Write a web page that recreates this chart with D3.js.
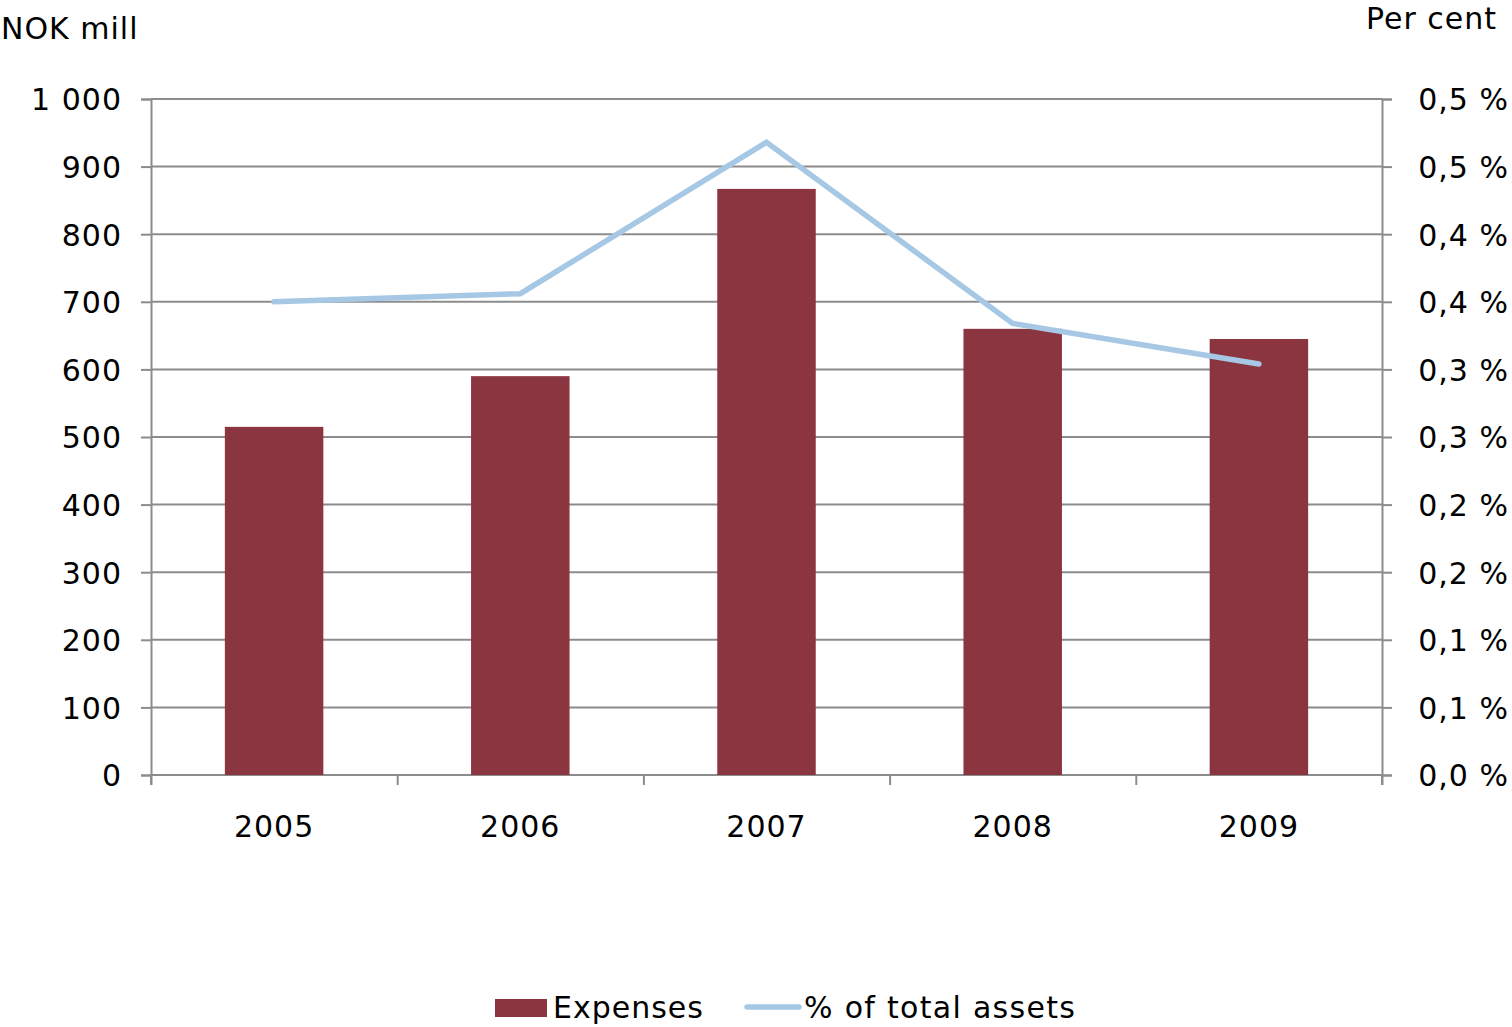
<!DOCTYPE html>
<html>
<head>
<meta charset="utf-8">
<script src="https://cdn.jsdelivr.net/npm/d3@7"></script>
<style>
  body { margin: 0; background: #fff; }
  text { font-family: "DejaVu Sans", Verdana, sans-serif; fill: #000; letter-spacing: 1px; }
</style>
</head>
<body>
<svg id="chart" width="1512" height="1027"></svg>
<script>
// chart values
const years = ["2005", "2006", "2007", "2008", "2009"];
const expenses = [515, 590, 867, 660, 645];
const pctAssets = [0.350, 0.356, 0.468, 0.334, 0.304];
const leftTicks = [0, 100, 200, 300, 400, 500, 600, 700, 800, 900, 1000];
const rightTicks = [0, 0.05, 0.1, 0.15, 0.2, 0.25, 0.3, 0.35, 0.4, 0.45, 0.5];

let margin = {top: 99, right: 130, bottom: 252, left: 151},
  width = 1512, height = 1027;

let svg = d3.select("#chart");

// scales
let x = d3.scaleBand()
  .domain(years)
  .range([margin.left, width - margin.right])
  .paddingInner(0.6)
  .paddingOuter(0.3);
let xEdge = d3.scaleLinear()
  .domain([0, years.length])
  .range([margin.left, width - margin.right]);
let yL = d3.scaleLinear().domain([0, 1000]).range([height - margin.bottom, margin.top]);
let yR = d3.scaleLinear().domain([0, 0.5]).range([height - margin.bottom, margin.top]);

const gridColor = "#8c8c8c";

// gridlines
svg.append("g")
  .selectAll("line")
  .data(leftTicks.slice(1)).enter()
  .append("line")
  .attr("x1", margin.left).attr("x2", width - margin.right)
  .attr("y1", d => yL(d)).attr("y2", d => yL(d))
  .attr("stroke", gridColor).attr("stroke-width", 2);

// left axis
let leftAxis = svg.append("g")
  .attr("transform", `translate(${margin.left},0)`)
  .call(d3.axisLeft(yL).tickValues(leftTicks).tickSize(10).tickPadding(19)
    .tickFormat(d => d3.format(",")(d).replace(",", " ")));

// right axis
let rightAxis = svg.append("g")
  .attr("transform", `translate(${width - margin.right},0)`)
  .call(d3.axisRight(yR).tickValues(rightTicks).tickSize(10).tickPadding(20)
    .tickFormat(d => (Math.round(d * 10) / 10).toFixed(1).replace(".", ",") + " %"));
rightAxis.selectAll("text").attr("text-anchor", "end").attr("dx", 0).attr("x", 127);

// bottom axis
let xAxis = svg.append("g")
  .attr("transform", `translate(0,${height - margin.bottom})`)
  .call(d3.axisBottom(xEdge).tickValues(d3.range(years.length + 1)).tickSize(10).tickFormat(""));

[leftAxis, rightAxis, xAxis].forEach(g => {
  g.selectAll("path.domain").attr("stroke", gridColor).attr("stroke-width", 2);
  g.selectAll(".tick line").attr("stroke", gridColor).attr("stroke-width", 2);
  g.selectAll("text").style("font-size", "30px").attr("fill", "#000")
    .style("font-family", "'DejaVu Sans', Verdana, sans-serif");
});
leftAxis.selectAll("text").attr("dy", "0.36em");
rightAxis.selectAll("text").attr("dy", "0.36em");
xAxis.select("path.domain").attr("d", `M${margin.left},10V0H${width - margin.right}V10`);

// year labels
svg.append("g")
  .selectAll("text")
  .data(years).enter()
  .append("text")
  .attr("x", d => x(d) + x.bandwidth() / 2)
  .attr("y", 837)
  .attr("text-anchor", "middle")
  .style("font-size", "30px")
  .text(d => d);

// bars
svg.append("g")
  .selectAll("rect")
  .data(expenses).enter()
  .append("rect")
  .attr("x", (d, i) => x(years[i]))
  .attr("width", x.bandwidth())
  .attr("y", d => yL(d))
  .attr("height", d => yL(0) - yL(d))
  .attr("fill", "#8b3540");

// line
let line = d3.line()
  .x((d, i) => x(years[i]) + x.bandwidth() / 2)
  .y(d => yR(d));
svg.append("path")
  .datum(pctAssets)
  .attr("d", line)
  .attr("fill", "none")
  .attr("stroke", "#a6c8e4")
  .attr("stroke-width", 5.5)
  .attr("stroke-linecap", "round")
  .attr("stroke-linejoin", "miter");

// axis titles
svg.append("text").attr("x", 1).attr("y", 39).style("font-size", "30px").text("NOK mill");
svg.append("text").attr("x", 1497).attr("y", 29).attr("text-anchor", "end")
  .style("font-size", "30px").text("Per cent");

// legend
let legend = svg.append("g");
legend.append("rect").attr("x", 495).attr("y", 999).attr("width", 52).attr("height", 18).attr("fill", "#8b3540");
legend.append("text").attr("x", 553).attr("y", 1018).style("font-size", "30px").text("Expenses");
legend.append("line").attr("x1", 747).attr("x2", 799).attr("y1", 1007).attr("y2", 1007)
  .attr("stroke", "#a6c8e4").attr("stroke-width", 5.5).attr("stroke-linecap", "round");
legend.append("text").attr("x", 804).attr("y", 1018).style("font-size", "30px")
  .style("letter-spacing", "1.3px").text("% of total assets");
</script>
</body>
</html>
